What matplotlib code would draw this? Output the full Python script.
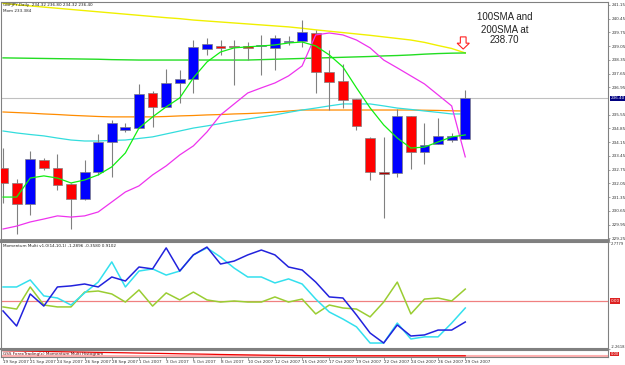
import matplotlib
matplotlib.use('Agg')
import matplotlib.pyplot as plt
import matplotlib.transforms as mtrans
from matplotlib.patches import FancyArrow

# ---------------- data ----------------
dates = ['19 Sep 2007', '20 Sep 2007', '21 Sep 2007', '23 Sep 2007', '24 Sep 2007', '25 Sep 2007',
         '26 Sep 2007', '27 Sep 2007', '28 Sep 2007', '30 Sep 2007', '1 Oct 2007', '2 Oct 2007',
         '3 Oct 2007', '4 Oct 2007', '5 Oct 2007', '7 Oct 2007', '8 Oct 2007', '9 Oct 2007',
         '10 Oct 2007', '11 Oct 2007', '12 Oct 2007', '14 Oct 2007', '15 Oct 2007', '16 Oct 2007',
         '17 Oct 2007', '18 Oct 2007', '19 Oct 2007', '21 Oct 2007', '22 Oct 2007', '23 Oct 2007',
         '24 Oct 2007', '25 Oct 2007', '26 Oct 2007', '28 Oct 2007', '29 Oct 2007']

opens = [232.83, 232.07, 231.00, 233.24, 232.83, 232.02, 231.25, 232.63, 234.16, 234.77, 234.87, 236.66,
         235.95, 237.17, 237.37, 238.91, 239.06, 239.06, 239.06, 239.06, 238.96, 239.26, 239.31, 239.72,
         237.73, 237.27, 236.35, 234.36, 232.63, 232.58, 235.49, 233.65, 234.06, 234.26, 234.32]
highs = [233.85, 232.27, 233.70, 233.34, 233.55, 232.05, 233.24, 234.57, 235.28, 235.13, 237.12, 236.76,
         237.88, 237.83, 239.36, 239.47, 239.36, 239.36, 239.26, 239.62, 239.62, 239.57, 240.38, 239.87,
         238.85, 238.14, 236.35, 234.40, 234.42, 235.84, 235.49, 235.13, 235.38, 234.62, 236.80]
lows = [231.05, 229.47, 230.44, 232.73, 231.71, 229.72, 231.20, 232.48, 232.37, 234.67, 234.85, 234.93,
        235.93, 236.15, 236.66, 238.60, 238.60, 237.07, 238.34, 237.58, 237.83, 239.11, 239.01, 236.66,
        235.79, 235.89, 234.77, 232.22, 230.28, 232.37, 232.78, 233.04, 234.06, 234.16, 234.32]
closes = [232.07, 231.00, 233.29, 232.83, 231.97, 231.25, 232.63, 234.16, 235.13, 234.93, 236.61, 235.95,
          237.17, 237.37, 239.01, 239.16, 238.96, 239.01, 238.96, 239.11, 239.47, 239.31, 239.77, 237.73,
          237.22, 236.30, 234.98, 232.63, 232.53, 235.49, 233.65, 234.01, 234.47, 234.47, 236.40]

sma200 = [241.23, 241.16, 241.10, 241.04, 240.98, 240.92, 240.86, 240.80, 240.74, 240.68, 240.62, 240.56,
          240.50, 240.45, 240.38, 240.33, 240.28, 240.23, 240.18, 240.13, 240.08, 240.03, 239.96, 239.88,
          239.81, 239.74, 239.67, 239.60, 239.52, 239.44, 239.36, 239.24, 239.08, 238.93, 238.70]
sma100 = [238.45, 238.44, 238.43, 238.42, 238.41, 238.40, 238.39, 238.38, 238.36, 238.35, 238.34, 238.34,
          238.34, 238.34, 238.34, 238.34, 238.34, 238.34, 238.34, 238.36, 238.38, 238.40, 238.42, 238.44,
          238.46, 238.48, 238.50, 238.52, 238.55, 238.57, 238.60, 238.64, 238.67, 238.69, 238.70]
ma_orange = [235.69, 235.66, 235.63, 235.59, 235.56, 235.52, 235.49, 235.46, 235.44, 235.44, 235.44, 235.44,
             235.46, 235.49, 235.51, 235.54, 235.56, 235.59, 235.61, 235.64, 235.69, 235.74, 235.79, 235.79,
             235.79, 235.79, 235.79, 235.79, 235.79, 235.79, 235.79, 235.78, 235.77, 235.75, 235.74]
ma_cyan = [234.72, 234.62, 234.54, 234.47, 234.36, 234.26, 234.21, 234.21, 234.24, 234.26, 234.34, 234.42,
           234.57, 234.72, 234.87, 234.98, 235.10, 235.23, 235.33, 235.44, 235.54, 235.67, 235.79, 235.89,
           236.00, 236.10, 236.10, 236.10, 236.00, 235.89, 235.82, 235.74, 235.67, 235.59, 235.59]
ma_magenta = [229.72, 229.87, 230.08, 230.23, 230.39, 230.33, 230.39, 230.59, 231.10, 231.61, 231.92, 232.48,
              232.94, 233.50, 233.96, 234.67, 235.54, 236.10, 236.66, 236.92, 237.17, 237.53, 238.04, 239.62,
              239.72, 239.62, 239.36, 238.96, 238.34, 237.94, 237.53, 237.12, 236.56, 236.00, 233.40]
ma_green = [231.35, 231.35, 232.32, 232.43, 232.32, 232.07, 232.22, 232.48, 232.89, 233.60, 234.87, 235.44,
            235.95, 236.41, 237.43, 238.24, 238.75, 238.96, 239.01, 239.06, 239.11, 239.21, 239.26, 239.06,
            238.60, 237.99, 236.92, 235.90, 235.03, 234.36, 233.85, 233.90, 234.16, 234.42, 234.52]

mom_blue = [-0.47, -1.18, 0.33, -0.24, 0.66, 0.71, 0.80, 0.66, 1.13, 0.94, 1.60, 1.51, 2.50, 1.41, 2.17,
            2.54, 1.74, 1.88, 2.17, 2.40, 2.17, 1.60, 1.46, 0.89, 0.19, 0.14, -0.66, -1.51, -1.98, -1.13,
            -1.65, -1.60, -1.37, -1.37, -0.99]
mom_cyan = [0.66, 0.66, 0.99, 0.24, 0.14, -0.19, 0.38, 0.89, 1.84, 0.66, 1.41, 1.51, 1.22, 1.41, 2.17,
            2.50, 2.07, 1.55, 1.13, 1.13, 0.85, 1.04, 0.80, 0.09, -0.52, -0.85, -1.22, -1.98, -1.98, -1.04,
            -1.79, -1.69, -1.69, -1.04, -0.33]
mom_olive = [-0.28, -0.38, 0.66, -0.19, -0.28, -0.28, 0.42, 0.47, 0.33, -0.05, 0.52, -0.24, 0.38, 0.05,
             0.42, 0.05, -0.05, 0.00, -0.05, -0.05, 0.19, -0.05, 0.09, -0.61, -0.19, -0.33, -0.38, -0.75,
             -0.05, 0.89, -0.61, 0.09, 0.14, 0.00, 0.56]
hist_vals = [0.90, 0.86, 0.83, 0.80, 0.76, 0.73, 0.70, 0.66, 0.63, 0.60, 0.56, 0.53, 0.50, 0.46, 0.43,
             0.40, 0.36, 0.33, 0.30, 0.27, 0.24, 0.22, 0.20, 0.20, 0.18, 0.18, 0.17, 0.17, 0.17, 0.17,
             0.17, 0.17, 0.17, 0.17, 0.17]

price_ticks = [241.15, 240.45, 239.75, 239.05, 238.35, 237.65, 236.95, 235.55, 234.85, 234.15,
               233.45, 232.75, 232.05, 231.35, 230.65, 229.95, 229.25]
last_price = 236.40
mom_max, mom_min = 2.7779, -2.2618

# ---------------- figure ----------------
W, H = 625, 365
fig = plt.figure(figsize=(W / 100, H / 100), dpi=100)
fig.patch.set_facecolor('white')

def axes_px(top, bottom, left=1, right=608):
    return fig.add_axes([left / W, 1 - bottom / H, (right - left) / W, (bottom - top) / H])

ax = axes_px(2, 240)
axm = axes_px(242, 349)
axs = axes_px(350, 357)

x = list(range(len(dates)))
xlim = (-0.15, 44.5)
gray = '#808080'
small = 3.0

for a in (ax, axm, axs):
    a.set_xlim(*xlim)
    a.set_facecolor('white')
    for s in a.spines.values():
        s.set_color(gray)
        s.set_linewidth(0.8)
    a.yaxis.tick_right()
    a.tick_params(axis='y', length=1.5, width=0.5, color=gray, labelsize=small, labelcolor='#333333', pad=1)
    a.tick_params(axis='x', bottom=False, labelbottom=False)
ax.spines['bottom'].set_linewidth(2)
axm.spines['bottom'].set_linewidth(1.5)
axm.spines['top'].set_linewidth(1.5)

# ---- main price panel ----
ax.set_ylim(229.16, 241.30)
ax.set_yticks(price_ticks)
ax.set_yticklabels([f'{t:.2f}' for t in price_ticks])
ax.axhline(last_price, color='#c0c0c0', lw=0.8, zorder=1)

ax.plot(x, sma200, color='#f0f000', lw=1.0, zorder=2)
ax.plot(x, sma100, color='#22dd22', lw=1.0, zorder=2)
ax.plot(x, ma_orange, color='#ff8c00', lw=0.9, zorder=2)
ax.plot(x, ma_cyan, color='#33dddd', lw=0.9, zorder=2)

ax.vlines(x, lows, highs, color=gray, lw=0.8, zorder=3)
for i in x:
    o, c = opens[i], closes[i]
    col = '#0000ff' if c > o else '#ff0000'
    if i == 28:
        col = '#aa0000'
    bottom = min(o, c)
    height = max(abs(c - o), 0.06)
    ax.bar(i, height, bottom=bottom, width=0.72, color=col, edgecolor=gray, lw=0.5, zorder=4)

ax.plot(x, ma_magenta, color='#ee33ee', lw=0.9, zorder=5)
ax.plot(x, ma_green, color='#11ee11', lw=0.9, zorder=5)

blend = mtrans.blended_transform_factory(ax.transAxes, ax.transData)
ax.text(1.004, last_price, f'{last_price:.2f}', transform=blend, fontsize=small, color='white',
        va='center', ha='left', bbox=dict(fc='#000080', ec='none', pad=0.4), zorder=10, clip_on=False)

ax.text(0.004, 0.995, 'GBPJPY,Daily  234.32 236.80 234.32 236.40', transform=ax.transAxes,
        fontsize=small, va='top', ha='left', color='#222222')
ax.text(0.004, 0.972, 'Mom 233.384', transform=ax.transAxes,
        fontsize=small, va='top', ha='left', color='#222222')

ann_font = dict(family=['Liberation Sans', 'DejaVu Sans'], fontsize=7, color='#222222', ha='center', va='center')
ax.text(36.9, 240.54, '100SMA and', **ann_font)
ax.text(36.9, 239.88, '200SMA at', **ann_font)
ax.text(36.9, 239.36, '238.70', **ann_font)

# hollow down arrow above the crossing point
arrow = FancyArrow(33.85, sma200[-1] + 0.82, 0, -0.62, width=0.42, head_width=0.9, head_length=0.3,
                   length_includes_head=True, fc='white', ec='#ff2222', lw=0.8, zorder=8)
ax.add_patch(arrow)

# ---- momentum panel ----
axm.set_ylim(mom_min, mom_max)
axm.set_yticks([mom_max, mom_min])
axm.set_yticklabels([f'{mom_max:.4f}', f'{mom_min:.4f}'])
axm.tick_params(axis='y', labelsize=2.7, pad=0.6)
labs = axm.get_yticklabels()
labs[0].set_va('top')
labs[1].set_va('bottom')
axm.axhline(0, color='#f08080', lw=0.9, zorder=1)
axm.plot(x, mom_olive, color='#9acd32', lw=1.1, zorder=2)
axm.plot(x, mom_cyan, color='#33e0ee', lw=1.1, zorder=3)
axm.plot(x, mom_blue, color='#2222dd', lw=1.1, zorder=4)
blendm = mtrans.blended_transform_factory(axm.transAxes, axm.transData)
axm.text(1.004, 0, '0.00', transform=blendm, fontsize=small, color='white', va='center', ha='left',
         bbox=dict(fc='#dd2222', ec='none', pad=0.4), clip_on=False)
axm.text(0.004, 0.985, 'Momentum Multi v1.0(14,10,1) -1.2896 -0.3580 0.9102', transform=axm.transAxes,
         fontsize=small, va='top', ha='left', color='#222222')

# ---- bottom strip ----
axs.set_ylim(0, 1)
axs.set_yticks([])
axs.axhline(0.12, color='#ffb0b0', lw=1.5, zorder=1)
axs.plot(x, hist_vals, color='#ee0000', lw=0.9, zorder=2)
axs.text(0.004, 0.5, 'GSS ForexTrading(c) Momentum Multi Histogram', transform=axs.transAxes,
         fontsize=small, va='center', ha='left', color='#550000')
axs.text(1.004, 0.4, '0.00', transform=axs.transAxes, fontsize=2.6, color='white', va='center', ha='left',
         bbox=dict(fc='#dd2222', ec='none', pad=0.2), clip_on=False)

# date labels
tick_idx = x[::2]
axs.set_xticks(tick_idx)
axs.set_xticklabels([dates[i] for i in tick_idx])
axs.tick_params(axis='x', bottom=True, labelbottom=True, length=2, width=0.5, color=gray,
                labelsize=small, labelcolor='#333333', pad=0.5)
for lab in axs.get_xticklabels():
    lab.set_ha('left')

fig.savefig('out.png', dpi=100, facecolor='white')
